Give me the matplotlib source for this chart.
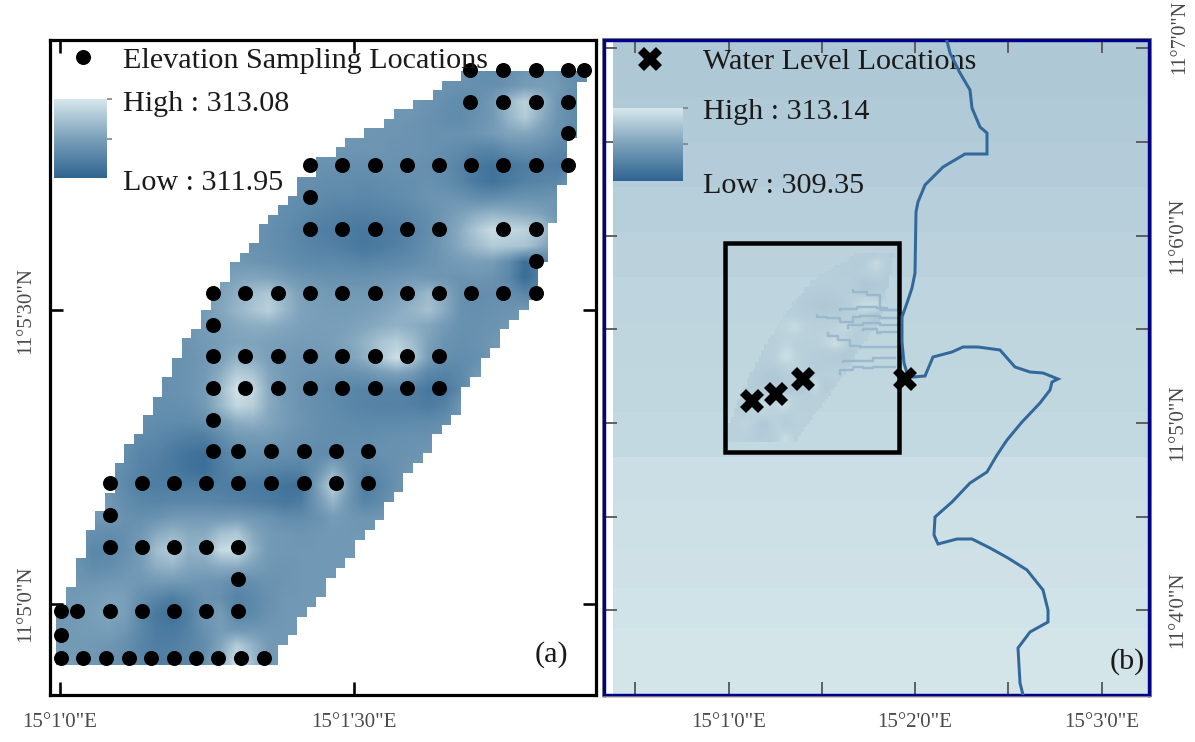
import numpy as np
import matplotlib
matplotlib.use("Agg")
import matplotlib.pyplot as plt
from matplotlib.colors import LinearSegmentedColormap, Normalize
from matplotlib.cm import ScalarMappable
from matplotlib.patches import Polygon, Rectangle

plt.rcParams['font.family'] = ['Liberation Serif', 'DejaVu Serif']

# ---------- data (map grid units, y grows downward) ----------
grid_x0, grid_y0, grid_step = 61, 70, 16
n_cols, n_rows = 34, 38
# elevation above 312 m in hundredths, read from the colours of panel (a):
# (index of first column, values) for each row from y=70 to y=662
field_rows = [
 (25,[40,36,33,36,42,45,42,34,34]),
 (24,[40,38,36,36,40,48,50,46,36,34]),
 (23,[40,36,32,36,46,72,92,70,44,32,32]),
 (21,[42,42,38,34,32,38,46,68,85,62,42,32,32]),
 (19,[42,42,42,40,38,38,38,42,46,54,56,48,38,30]),
 (17,[42,42,42,42,40,40,38,36,32,26,26,34,36,34,28,26]),
 (15,[40,38,38,36,36,38,38,38,36,32,24,14,10,14,18,22,20,22]),
 (14,[40,36,36,34,34,32,34,36,36,38,34,26,16,10,16,24,26,28]),
 (13,[40,36,34,32,30,30,28,30,32,36,40,42,40,34,34,38,40,40,42]),
 (12,[40,38,34,30,26,24,22,22,24,26,30,36,44,52,62,68,64,60,54,42]),
 (11,[42,40,36,32,26,22,20,17,14,18,20,26,34,46,62,84,100,96,92,82,50]),
 (10,[42,42,38,36,32,28,24,22,18,14,18,22,28,36,46,60,74,86,82,80,62]),
 (9,[44,44,44,42,40,36,32,30,30,28,26,28,30,34,38,44,48,50,48,34,6,18]),
 (8,[46,46,50,54,56,54,48,42,40,38,38,38,40,42,46,44,42,40,42,40,28,4,22]),
 (8,[44,48,54,64,76,84,68,52,48,46,46,46,48,52,60,72,58,38,34,36,36,28,30]),
 (7,[44,44,48,56,68,80,90,70,54,50,48,48,50,54,60,68,78,60,38,36,38,40]),
 (6,[42,42,44,48,52,58,62,62,56,52,50,50,52,56,62,66,62,56,46,38,38,40]),
 (6,[38,40,42,46,50,54,54,52,50,48,48,50,56,66,80,88,74,52,40,36,38]),
 (5,[40,36,38,40,44,52,66,60,50,46,44,44,46,52,64,84,102,82,48,36,34,36]),
 (5,[38,36,38,40,46,62,88,80,56,46,42,40,38,38,40,46,52,44,28,24,30]),
 (4,[40,38,36,38,40,48,74,105,96,60,46,40,36,30,28,26,26,26,22,14,16,30]),
 (4,[40,38,36,36,38,46,70,95,88,60,48,40,36,32,28,26,24,24,22,18,24]),
 (3,[42,38,36,34,32,32,36,48,62,64,56,48,42,36,34,32,30,30,30,32,32,36]),
 (3,[42,36,32,28,24,20,20,32,44,46,46,42,38,36,34,34,34,36,38,38,38]),
 (2,[42,40,34,26,24,16,10,6,22,34,36,36,36,34,32,34,36,36,38,38,40]),
 (2,[42,40,32,24,20,16,10,6,20,28,28,26,24,24,38,62,40,28,32,38]),
 (2,[44,40,30,22,20,20,20,20,20,18,16,14,10,8,50,90,46,18,28,38]),
 (1,[44,44,44,34,28,26,28,28,28,26,24,22,18,14,18,44,68,42,26,32]),
 (1,[44,44,46,38,36,40,46,46,46,46,48,44,40,34,34,38,48,44,42]),
 (0,[44,42,36,34,36,44,60,68,60,60,78,84,58,46,44,42,44,44,44]),
 (0,[44,40,28,28,36,48,76,88,64,68,98,102,66,46,44,44,44,44]),
 (0,[44,40,32,34,40,48,64,68,56,56,62,62,52,44,42,44,44]),
 (0,[44,42,42,44,46,44,46,46,44,42,40,32,36,40,42,44,44]),
 (0,[44,46,48,52,50,36,26,20,28,38,36,24,30,38,44,44]),
 (0,[42,46,50,56,50,30,14,8,22,44,48,26,30,40,44]),
 (0,[44,46,48,50,44,28,18,16,24,38,48,44,44,44,44]),
 (0,[46,46,44,42,36,26,20,22,26,34,56,88,66,46]),
 (0,[48,48,44,40,36,28,22,22,28,38,64,104,74,46]),
]
# staircase outline of the sampled area
outline_x = [56,56,66,66,76,76,86,86,95,95,105,105,115,115,124,124,134,134,143,143,153,153,162,162,172,172,182,182,
             191,191,201,201,211,211,220,220,230,230,240,240,249,249,259,259,268,268,278,278,288,288,297,297,316,316,
             336,336,345,345,364,364,384,384,394,394,413,413,433,433,442,442,461,461,587,587,577,577,567,567,557,557,
             548,548,538,538,529,529,519,519,509,509,500,500,490,490,481,481,470,470,461,461,451,451,442,442,432,432,
             423,423,413,413,403,403,394,394,384,384,375,375,365,365,355,355,345,345,336,336,326,326,316,316,307,307,
             297,297,288,288,278,278,268,268]
outline_y = [665,605,605,587,587,558,558,530,530,511,511,493,493,463,463,444,444,434,434,415,415,397,397,377,377,358,358,338,
             338,329,329,310,310,292,292,282,282,262,262,253,253,243,243,224,224,215,215,205,205,196,196,177,177,157,
             157,147,147,138,138,128,128,119,119,109,109,100,100,90,90,81,81,71,71,82,82,138,138,185,185,223,
             223,262,262,300,300,310,310,320,320,329,329,348,348,358,358,377,377,387,387,415,415,425,425,434,434,453,
             453,463,463,473,473,492,492,502,502,520,520,530,530,540,540,558,558,568,568,578,578,597,597,607,607,617,
             617,635,635,645,645,665]
# elevation sampling locations: row -> columns
sample_rows = {
 70:[470,503,536,568,584], 102:[470,503,536,568], 133:[568],
 165:[310,342,375,407,439,471,503,536,568], 197:[310],
 229:[310,342,375,407,439,503,536], 261:[536],
 293:[213,245,278,310,342,375,407,439,471,503,536], 325:[213],
 356:[213,245,278,310,342,375,407,439], 388:[213,245,278,310,342,375,407,439],
 420:[213], 451:[213,238,271,304,336,368],
 483:[110,142,174,206,238,271,304,336,368], 515:[110],
 547:[110,142,174,206,238], 579:[238],
 611:[61,77,110,142,174,206,238], 635:[61],
 658:[61,83,106,129,151,174,196,218,241,264],
}
# panel (b)
band_edges = [41,97,142,187,232,277,322,367,412,457,503,548,588,628,695]
band_levels = [312.30,312.36,312.42,312.50,312.57,312.63,312.67,312.71,312.75,312.90,312.94,312.98,313.02,313.08]
river_x = [947,950,960,970,972,980,987,987,965,943,925,918,916,915,912,907,902,902,904,907,913,925,933,952,963,978,1000,
           1015,1030,1043,1058,1052,1050,1040,1022,1007,997,987,970,952,935,934,938,957,972,990,1008,1027,1043,1048,
           1048,1030,1018,1020,1023]
river_y = [41,53,73,90,108,127,133,154,154,167,185,202,212,273,288,303,317,342,363,373,377,376,357,352,347,347,350,
           367,372,373,379,382,390,403,422,440,455,472,483,502,517,535,544,539,539,548,558,570,590,610,
           622,632,648,683,695]
tributaries = [
 ([900,887,877,863,857,840],[310,308,307,307,309,310]),
 ([897,880,867,853],[310,295,292,290]),
 ([897,880,860,853,840,827,817],[318,316,317,322,318,317,315]),
 ([897,880,863,848],[325,323,325,328]),
 ([897,880,877,863],[332,333,329,330]),
 ([900,860,850,838,828],[347,346,340,336,333]),
 ([895,873,843],[358,361,362]),
 ([895,873,863,853,840],[367,368,367,370,374]),
]
water_x = [752,776,803,905]
water_y = [401,394,379,379]

low_a, high_a = 311.95, 313.08
low_b, high_b = 309.35, 313.14
xticks_a, xlabels_a = [60,354], ["15°1'0\"E","15°1'30\"E"]
yticks_a, ylabels_a = [310,604], ["11°5'30\"N","11°5'0\"N"]
xticks_b = [635,729,822,915,1008,1102]
xlabels_b = ["","15°1'0\"E","","15°2'0\"E","","15°3'0\"E"]
yticks_b = [48,142,236,329,423,517,610]
ylabels_b = ["","","11°6'0\"N","","11°5'0\"N","","11°4'0\"N"]

# ---------- style ----------
W, H = 1195, 742
cmap = LinearSegmentedColormap.from_list("elev", ["#2e6490", "#7ba0ba", "#d6e7eb"])
GREY = "#4a4a4a"
px = 0.72

def axes_px(l, t, r, b):
    return fig.add_axes([l/W, 1-b/H, (r-l)/W, (b-t)/H])

fig = plt.figure(figsize=(W/100, H/100), dpi=100, facecolor="white")

# ---------- panel a ----------
ax = axes_px(50, 40, 596, 695)
Z = np.full((n_rows, n_cols), 44.0)
for r, (i0, vals) in enumerate(field_rows):
    Z[r, i0:i0+len(vals)] = vals
Z = 312 + Z/100
ext = [grid_x0-grid_step/2, grid_x0+(n_cols-.5)*grid_step, grid_y0+(n_rows-.5)*grid_step, grid_y0-grid_step/2]
norm_a = Normalize(low_a, high_a)
im = ax.imshow(Z, cmap=cmap, norm=norm_a, extent=ext, interpolation="bilinear", aspect="auto", zorder=1)
outline = list(zip(outline_x, outline_y))
im.set_clip_path(Polygon(outline, closed=True, transform=ax.transData))
ax.set_xlim(50, 596); ax.set_ylim(695, 40)
sx = [c for r, cs in sample_rows.items() for c in cs]
sy = [r for r, cs in sample_rows.items() for c in cs]
ax.plot(sx, sy, ls="none", marker="o", ms=15*px, mfc="black", mec="black", mew=0, zorder=3)
ax.plot([83], [57], ls="none", marker="o", ms=15*px, mfc="black", mew=0, zorder=3)
ax.set_xticks(xticks_a, xlabels_a); ax.set_yticks(yticks_a, ylabels_a)
ax.tick_params(axis="both", direction="in", length=13*px, width=2.6*px, color="black",
               top=True, right=True, labelsize=15, labelcolor=GREY)
ax.tick_params(axis="x", pad=13)
ax.tick_params(axis="y", pad=11)
for t in ax.get_yticklabels():
    t.set_rotation(90); t.set_va("center")
for s in ax.spines.values():
    s.set_linewidth(3.2*px); s.set_color("black")
LEG = dict(family="Liberation Serif", fontsize=21.7, color="#1a1a1a", va="center", ha="left", zorder=4)
ax.text(123, 61, "Elevation Sampling Locations", **LEG)
ax.text(123, 104, "High : 313.08", **LEG)
ax.text(123, 183, "Low : 311.95", **LEG)
ax.text(551, 655, "(a)", family="Liberation Serif", fontsize=21.7, color="#1a1a1a", ha="center", va="center")

def legend_bar(l, t, r, b, low, high):
    c = axes_px(l, t, r, b)
    cb = fig.colorbar(ScalarMappable(Normalize(low, high), cmap), cax=c)
    cb.outline.set_visible(False)
    cb.set_ticks([high, (low+high)/2])
    c.set_yticklabels(["", ""])
    c.tick_params(length=5*px, width=1.5*px, color="#777777", pad=0)
    return c

legend_bar(54, 99, 107, 178, low_a, high_a)

# ---------- panel b ----------
bx = axes_px(604, 40, 1149, 695)
norm_b = Normalize(low_b, high_b)
bx.pcolormesh([613, 1149], band_edges, np.array(band_levels)[:, None], cmap=cmap, norm=norm_b, zorder=1)
# the panel (a) field again, at its place inside the overview
L, R, T, B = 728, 895, 253, 442
sc_x = (R-L)/(max(outline_x)-min(outline_x)); sc_y = (B-T)/(max(outline_y)-min(outline_y))
def to_x(v): return L+(v-min(outline_x))*sc_x
def to_y(v): return T+(v-min(outline_y))*sc_y
im2 = bx.imshow(Z, cmap=cmap, norm=norm_b, extent=[to_x(ext[0]), to_x(ext[1]), to_y(ext[2]), to_y(ext[3])],
                interpolation="bilinear", aspect="auto", zorder=2, alpha=0.6)
inset_outline = [(to_x(x), to_y(y)) for x, y in outline]
im2.set_clip_path(Polygon(inset_outline, closed=True, transform=bx.transData))
for xs, ys in tributaries:
    bx.plot(xs, ys, color="#9bb9cc", lw=2.4*px, zorder=3, drawstyle="steps-post")
bx.set_xlim(604, 1149); bx.set_ylim(695, 40)
bx.add_patch(Rectangle((725, 243), 174, 209, fill=False, ec="black", lw=4.5*px, zorder=4))
bx.plot(river_x, river_y, color="#33699a", lw=3*px, zorder=5, solid_joinstyle="miter")
bx.plot(water_x, water_y, ls="none", marker="X", ms=24*px, mfc="black", mec="black", mew=0, zorder=6)
bx.plot([650], [59], ls="none", marker="X", ms=24*px, mfc="black", mec="black", mew=0, zorder=6)
bx.set_xticks(xticks_b, xlabels_b); bx.set_yticks(yticks_b, ylabels_b)
bx.tick_params(axis="both", direction="in", length=13*px, width=1.8*px, color="#555555",
               top=True, right=True, left=True, labelleft=False, labelright=True,
               labelsize=15, labelcolor=GREY)
bx.tick_params(axis="x", pad=13)
bx.tick_params(axis="y", pad=14)
for t in bx.get_yticklabels():
    t.set_rotation(90); t.set_va("center")
for s in bx.spines.values():
    s.set_linewidth(3.4*px); s.set_color("#00008b")
bx.add_patch(Rectangle((602, 38), 549, 658, fill=False, ec="#777777", lw=1*px, clip_on=False, zorder=10))
bx.text(1180, 37, "11°7'0\"N", rotation=90, ha="center", va="center", fontsize=14.5, color=GREY, clip_on=False)
bx.text(703, 62, "Water Level Locations", **LEG)
bx.text(703, 112, "High : 313.14", **LEG)
bx.text(703, 186, "Low : 309.35", **LEG)
bx.text(1127, 662, "(b)", family="Liberation Serif", fontsize=21.7, color="#1a1a1a", ha="center", va="center")
legend_bar(613, 108, 683, 181, low_b, high_b)

fig.savefig("out.png", dpi=100, facecolor="white")
